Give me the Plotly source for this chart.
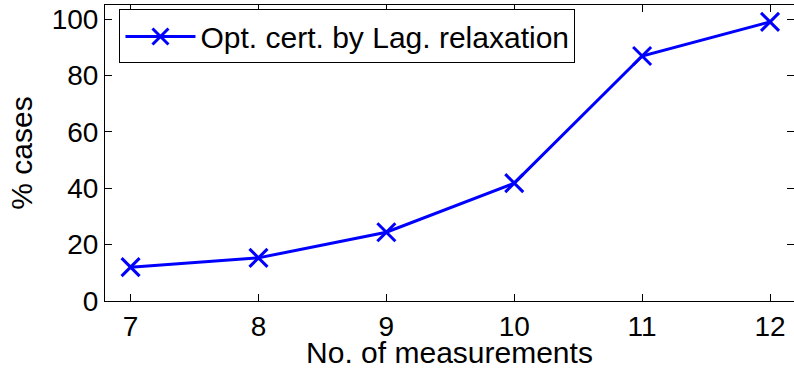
import plotly.graph_objects as go

measurements = [7, 8, 9, 10, 11, 12]
pct_cases = [12.0, 15.3, 24.4, 41.8, 86.9, 99.0]
series_name = "Opt. cert. by Lag. relaxation"
y_ticks = [0, 20, 40, 60, 80, 100]

FONT = "Liberation Sans, Arial, Helvetica, sans-serif"
FS = 28
TS = 30

fig = go.Figure()
fig.add_trace(go.Scatter(
    x=measurements, y=pct_cases, mode="lines+markers", name=series_name,
    line=dict(color="#0000FF", width=3),
    marker=dict(symbol="x-thin", size=18, line=dict(color="#0000FF", width=3)),
))
# invisible trace to carry the right-hand tick axis
fig.add_trace(go.Scatter(x=measurements, y=pct_cases, yaxis="y2", mode="lines",
                         line=dict(width=0), opacity=0, showlegend=False, hoverinfo="skip"))

fig.update_layout(
    width=794, height=369,
    margin=dict(l=105, r=0, t=5, b=68),
    paper_bgcolor="white", plot_bgcolor="white",
    font=dict(family=FONT, size=FS, color="black"),
    showlegend=True,
    legend=dict(x=0.021, y=0.985, xanchor="left", yanchor="top",
                bordercolor="black", borderwidth=1, bgcolor="white",
                font=dict(size=30), tracegroupgap=0, itemwidth=70),
    xaxis=dict(range=[6.8, 12.1875], tickvals=measurements, ticks="inside", ticklen=7,
               tickcolor="black", showline=True, linecolor="black", linewidth=1,
               mirror="ticks", showgrid=False, zeroline=False, automargin=False,
               title=dict(text="No. of measurements", standoff=9, font=dict(size=TS)),
               tickfont=dict(size=FS)),
    yaxis=dict(range=[0, 105], tickvals=y_ticks, ticks="inside", ticklen=7,
               tickcolor="black", showline=True, linecolor="black", linewidth=1,
               mirror=False, showgrid=False, zeroline=False, automargin=False,
               title=dict(text="% cases", standoff=10, font=dict(size=TS)),
               tickfont=dict(size=FS)),
    yaxis2=dict(range=[0, 105], tickvals=y_ticks, ticks="inside", ticklen=7,
                tickcolor="black", overlaying="y", side="right", showline=False,
                showticklabels=False, showgrid=False, zeroline=False),
)
fig.write_html("out.html")
